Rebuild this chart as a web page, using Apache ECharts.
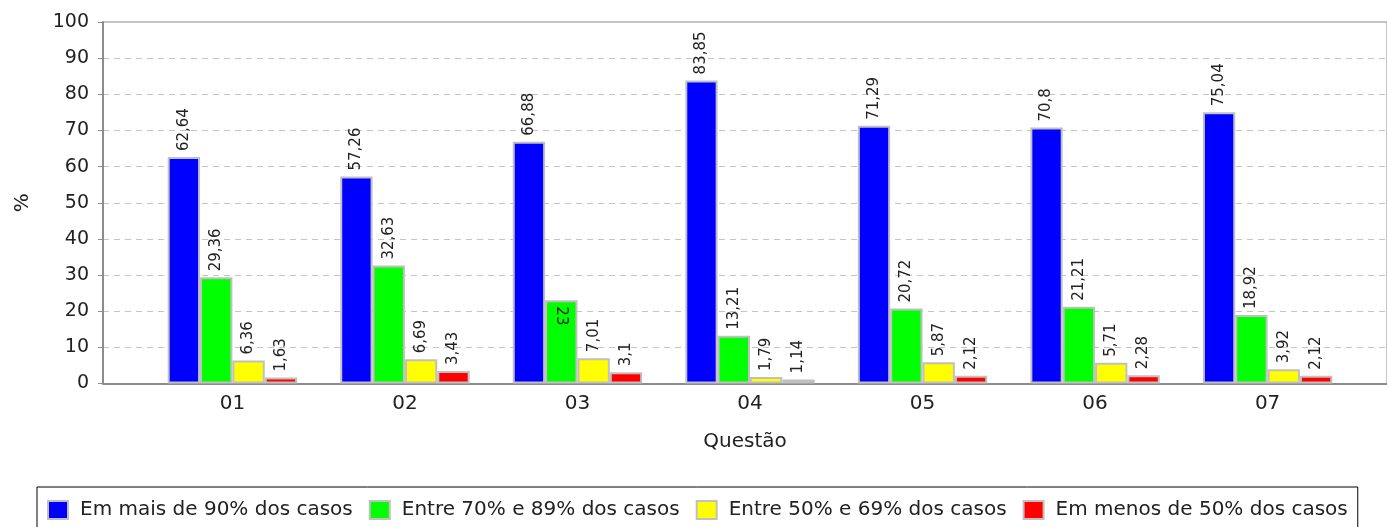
<!DOCTYPE html>
<html>
<head>
<meta charset="utf-8">
<script src="https://cdn.jsdelivr.net/npm/echarts@6/dist/echarts.min.js"></script>
<style>
  html, body { margin: 0; padding: 0; background: #ffffff; }
  #chart { width: 1387px; height: 527px; }
</style>
</head>
<body>
<div id="chart"></div>
<script>
// ---- data ----
const categories = ['01', '02', '03', '04', '05', '06', '07'];
const seriesNames = [
  'Em mais de 90% dos casos',
  'Entre 70% e 89% dos casos',
  'Entre 50% e 69% dos casos',
  'Em menos de 50% dos casos'
];
const mais90   = [62.64, 57.26, 66.88, 83.85, 71.29, 70.8, 75.04];
const entre70  = [29.36, 32.63, 23, 13.21, 20.72, 21.21, 18.92];
const entre50  = [6.36, 6.69, 7.01, 1.79, 5.87, 5.71, 3.92];
const menos50  = [1.63, 3.43, 3.1, 1.14, 2.12, 2.28, 2.12];
const yTicks   = [0, 10, 20, 30, 40, 50, 60, 70, 80, 90, 100];
const xTitle = 'Questão';
const yTitle = '%';
// label drawn inside its bar in the reference: [series index, category index]
const insideLabels = [[1, 2]];

const colors = ['#0000ff', '#00ff00', '#ffff00', '#ff0000'];
const allValues = [mais90, entre70, entre50, menos50];

const FONT = 'DejaVu Sans';
const fmt = v => String(v).replace('.', ',');

const chart = echarts.init(document.getElementById('chart'), null, { renderer: 'canvas' });

const PLOT_TOP = 22, PLOT_H = 361.5;
const AXIS_LEFT = 103, AXIS_LEN = 1294;
const BAND = AXIS_LEN * (0.7 / 7 + 0.2 / 6);
const FIRST_CENTER = AXIS_LEFT + AXIS_LEN * 0.05 + AXIS_LEN * 0.05;

const series = allValues.map((vals, si) => ({
  name: seriesNames[si],
  type: 'bar',
  xAxisIndex: 0,
  yAxisIndex: 0,
  barGap: '0%',
  barCategoryGap: '25%',
  itemStyle: { color: colors[si], borderColor: '#c0c0c0', borderWidth: 2 },
  label: {
    show: true,
    position: 'top',
    rotate: 90,
    align: 'left',
    verticalAlign: 'middle',
    distance: 6,
    fontFamily: FONT,
    fontSize: 15,
    color: '#222',
    formatter: p => fmt(p.value)
  },
  data: vals.map((v, ci) => {
    const inside = insideLabels.some(([s, c]) => s === si && c === ci);
    if (!inside) return v;
    return {
      value: v,
      label: { position: 'insideTop', rotate: -90, align: 'left', verticalAlign: 'middle', distance: 6 }
    };
  })
}));

chart.setOption({
  backgroundColor: '#ffffff',
  animation: false,
  grid: [
    { left: FIRST_CENTER - BAND / 2, top: PLOT_TOP, width: BAND * 7, height: PLOT_H },
    { left: AXIS_LEFT, top: PLOT_TOP, width: AXIS_LEN, height: PLOT_H,
      show: true, borderColor: '#8c8c8c', borderWidth: 1, backgroundColor: 'transparent' }
  ],
  xAxis: [
    {
      type: 'category', gridIndex: 0, data: categories,
      axisLine: { show: false }, axisTick: { show: false },
      axisLabel: { fontFamily: FONT, fontSize: 20, color: '#222', margin: 10 },
      splitLine: { show: false }
    },
    {
      type: 'value', gridIndex: 1, min: 0, max: 1,
      axisLine: { show: true, lineStyle: { color: '#8c8c8c', width: 2 } },
      axisTick: { show: false }, axisLabel: { show: false }, splitLine: { show: false },
      name: xTitle, nameLocation: 'middle', nameGap: 48,
      nameTextStyle: { fontFamily: FONT, fontSize: 20, color: '#222' }
    }
  ],
  yAxis: [
    { type: 'value', gridIndex: 0, min: 0, max: 100, show: false },
    {
      type: 'value', gridIndex: 1, min: yTicks[0], max: yTicks[yTicks.length - 1], interval: yTicks[1] - yTicks[0],
      axisLine: { show: true, lineStyle: { color: '#8c8c8c', width: 2 } },
      axisTick: { show: true, length: 5, lineStyle: { color: '#8c8c8c', width: 1 } },
      axisLabel: { fontFamily: FONT, fontSize: 19, color: '#222', margin: 14 },
      splitLine: { show: true, showMinLine: false, showMaxLine: false,
        lineStyle: { color: '#c4c4c4', width: 1, type: [6, 5] } },
      name: yTitle, nameLocation: 'middle', nameGap: 70, nameRotate: 90,
      nameTextStyle: { fontFamily: FONT, fontSize: 20, color: '#222' }
    }
  ],
  legend: {
    left: 37, top: 487,
    orient: 'horizontal',
    padding: [13, 10, 13, 10],
    borderColor: '#000', borderWidth: 1,
    itemWidth: 20, itemHeight: 18, itemGap: 16,
    icon: 'rect',
    itemStyle: { borderColor: '#c0c0c0', borderWidth: 2 },
    textStyle: { fontFamily: FONT, fontSize: 20, color: '#222', padding: [0, 0, 0, 7] },
    data: seriesNames
  },
  series: series
});
</script>
</body>
</html>
